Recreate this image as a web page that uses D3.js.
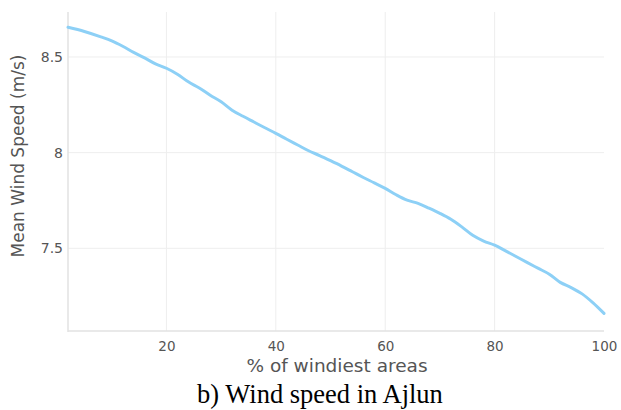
<!DOCTYPE html>
<html>
<head>
<meta charset="utf-8">
<script src="https://cdn.jsdelivr.net/npm/d3@7"></script>
<style>
  html, body { margin: 0; padding: 0; background: #fff; }
  svg { display: block; }
</style>
</head>
<body>
<svg id="chart" width="621" height="410"></svg>
<script>
// Share of windiest areas (%) and the mean wind speed over that share (m/s)
const pctAreas = [2, 5, 8, 10, 12, 14, 16, 18, 20, 22, 24, 26, 28, 30, 32, 34, 36, 38, 40,
  42, 44, 46, 48, 50, 52, 54, 56, 58, 60, 62, 64, 66, 68, 70, 72, 74, 76, 78, 80,
  82, 84, 86, 88, 90, 92, 94, 96, 98, 100];
const meanSpeed = [8.655, 8.633, 8.605, 8.584, 8.556, 8.524, 8.495, 8.464, 8.441, 8.410,
  8.370, 8.338, 8.300, 8.266, 8.222, 8.190, 8.160, 8.130, 8.101, 8.070, 8.040, 8.010,
  7.985, 7.958, 7.930, 7.900, 7.870, 7.842, 7.813, 7.780, 7.752, 7.735, 7.710, 7.683,
  7.652, 7.612, 7.568, 7.538, 7.517, 7.487, 7.456, 7.425, 7.395, 7.365, 7.322, 7.295,
  7.262, 7.215, 7.160];
const xTicks = [20, 40, 60, 80, 100];
const yTicks = [7.5, 8, 8.5];

const xTitle = "% of windiest areas";
const yTitle = "Mean Wind Speed (m/s)";
const caption = "b) Wind speed in Ajlun";

const svg = d3.select("#chart");
const plot = { left: 68, top: 12, right: 604, bottom: 331 };

const x = d3.scaleLinear().domain([2, 100]).range([plot.left, plot.right]);
const y = d3.scaleLinear().domain([7.068, 8.735]).range([plot.bottom, plot.top]);

const sansFont = "'DejaVu Sans', Verdana, sans-serif";

// grid lines
svg.append("g")
  .selectAll("line")
  .data(xTicks.filter(t => t < 100))
  .join("line")
  .attr("x1", d => x(d)).attr("x2", d => x(d))
  .attr("y1", plot.top).attr("y2", plot.bottom)
  .attr("stroke", "#eeeeee").attr("stroke-width", 1);

svg.append("g")
  .selectAll("line")
  .data(yTicks)
  .join("line")
  .attr("x1", plot.left).attr("x2", plot.right)
  .attr("y1", d => y(d)).attr("y2", d => y(d))
  .attr("stroke", "#eeeeee").attr("stroke-width", 1);

// axis lines
svg.append("line")
  .attr("x1", plot.left).attr("x2", plot.left)
  .attr("y1", plot.top).attr("y2", plot.bottom + 1)
  .attr("stroke", "#e2e2e2").attr("stroke-width", 1.5);
svg.append("line")
  .attr("x1", plot.left).attr("x2", plot.right)
  .attr("y1", plot.bottom).attr("y2", plot.bottom)
  .attr("stroke", "#e2e2e2").attr("stroke-width", 1.5);

// x axis labels
const xAxis = d3.axisBottom(x).tickValues(xTicks).tickSize(0).tickPadding(10).tickFormat(d3.format("d"));
const gx = svg.append("g").attr("transform", `translate(0,${plot.bottom})`).call(xAxis);
gx.select(".domain").remove();
gx.selectAll("text").attr("font-family", sansFont).attr("font-size", 13.5).attr("fill", "#555");

// y axis labels
const yAxis = d3.axisLeft(y).tickValues(yTicks).tickSize(0).tickPadding(5).tickFormat(d => d);
const gy = svg.append("g").attr("transform", `translate(${plot.left},0)`).call(yAxis);
gy.select(".domain").remove();
gy.selectAll("text").attr("font-family", sansFont).attr("font-size", 14).attr("fill", "#555");

// the curve
const line = d3.line()
  .x((d, i) => x(pctAreas[i]))
  .y(d => y(d))
  .curve(d3.curveMonotoneX);

svg.append("path")
  .datum(meanSpeed)
  .attr("d", line)
  .attr("fill", "none")
  .attr("stroke", "#8dd0f6")
  .attr("stroke-width", 3)
  .attr("stroke-linejoin", "round")
  .attr("stroke-linecap", "round");

// axis titles
svg.append("text")
  .attr("x", 337)
  .attr("y", 372)
  .attr("text-anchor", "middle")
  .attr("font-family", sansFont)
  .attr("font-size", 18.5)
  .attr("fill", "#555")
  .text(xTitle);

svg.append("text")
  .attr("transform", "translate(24,156) rotate(-90)")
  .attr("text-anchor", "middle")
  .attr("font-family", sansFont)
  .attr("font-size", 17)
  .attr("fill", "#555")
  .text(yTitle);

// caption
svg.append("text")
  .attr("x", 320)
  .attr("y", 403)
  .attr("text-anchor", "middle")
  .attr("font-family", "'Liberation Serif', 'Times New Roman', serif")
  .attr("font-size", 26.5)
  .attr("fill", "#000")
  .text(caption);
</script>
</body>
</html>
